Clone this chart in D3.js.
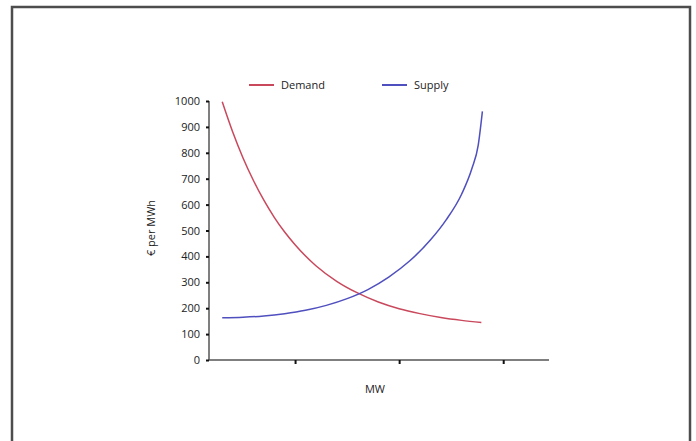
<!DOCTYPE html>
<html>
<head>
  <meta charset="UTF-8">
  <title>supply-demand</title>
  <style>
    body { margin: 0; background: #fff; }
    text { font-family: "Open Sans", "DejaVu Sans", sans-serif; fill: #222; }
  </style>
</head>
<body>
  <script src="https://cdn.jsdelivr.net/npm/d3@7"></script>
  <script>
  // values: x in arbitrary MW units, y in euro per MWh
  var demandX = [0.30, 0.40, 0.50, 0.60, 0.70, 0.80, 0.90, 1.00, 1.20, 1.40, 1.60, 1.80, 2.00, 2.20, 2.40, 2.60, 2.79];
  var demandY = [997, 881, 780, 693, 617, 551, 494, 445, 364, 304, 259, 224, 198, 179, 164, 153, 145];
  var supplyX = [0.30, 0.50, 0.70, 0.90, 1.10, 1.30, 1.50, 1.70, 1.90, 2.10, 2.30, 2.45, 2.60, 2.70, 2.76, 2.80];
  var supplyY = [163, 165, 170, 179, 192, 211, 237, 272, 320, 382, 463, 540, 640, 740, 830, 960];
  var yTicks = [0, 100, 200, 300, 400, 500, 600, 700, 800, 900, 1000];
  var xTicks = [1, 2, 3];
  var seriesNames = ["Demand", "Supply"];
  var colors = ["#c9485c", "#4f4fbf"];

  var width = 696, height = 441;
  var svg = d3.select("body").append("svg")
    .attr("width", width)
    .attr("height", height);

  // outer frame
  svg.append("rect")
    .attr("x", 12).attr("y", 7)
    .attr("width", 678).attr("height", 460)
    .attr("fill", "none")
    .attr("stroke", "#4d4d4d")
    .attr("stroke-width", 2.5);

  var x = d3.scaleLinear().domain([0.173, 3.44]).range([209, 549]);
  var y = d3.scaleLinear().domain([0, 1000]).range([360, 101]);

  // y axis
  var yAxis = d3.axisLeft(y).tickValues(yTicks).tickSize(3).tickPadding(6)
    .tickFormat(d3.format("d"));
  var gy = svg.append("g")
    .attr("transform", "translate(209,0)")
    .call(yAxis);
  gy.select(".domain").attr("stroke", "#555").attr("stroke-width", 1.5)
    .attr("d", "M0," + y(1000) + "V" + y(0));
  gy.selectAll(".tick line").attr("stroke", "#111").attr("stroke-width", 2);
  gy.selectAll(".tick text").style("font-size", "11px").attr("fill", "#222");

  // x axis
  var xAxis = d3.axisBottom(x).tickValues(xTicks).tickSize(4).tickFormat("");
  var gx = svg.append("g")
    .attr("transform", "translate(0,360)")
    .call(xAxis);
  gx.select(".domain").attr("stroke", "#555").attr("stroke-width", 1.5)
    .attr("d", "M" + x.range()[0] + ",0H" + x.range()[1]);
  gx.selectAll(".tick line").attr("stroke", "#111").attr("stroke-width", 2);

  // axis titles
  svg.append("text")
    .attr("transform", "translate(155,228) rotate(-90)")
    .attr("text-anchor", "middle")
    .style("font-size", "11px")
    .text("€ per MWh");
  svg.append("text")
    .attr("x", 375).attr("y", 393)
    .attr("text-anchor", "middle")
    .style("font-size", "11px")
    .text("MW");

  // curves
  var line = d3.line()
    .x(function (d) { return x(d[0]); })
    .y(function (d) { return y(d[1]); })
    .curve(d3.curveMonotoneX);

  var series = [d3.zip(demandX, demandY), d3.zip(supplyX, supplyY)];
  svg.selectAll(".curve")
    .data(series)
    .enter().append("path")
    .attr("class", "curve")
    .attr("d", line)
    .attr("fill", "none")
    .attr("stroke", function (d, i) { return colors[i]; })
    .attr("stroke-width", 1.5);

  // legend
  var legendX = [249, 382];
  var leg = svg.selectAll(".legend")
    .data(seriesNames)
    .enter().append("g")
    .attr("class", "legend")
    .attr("transform", function (d, i) { return "translate(" + legendX[i] + ",85)"; });
  leg.append("line")
    .attr("x1", 0).attr("x2", 25)
    .attr("stroke", function (d, i) { return colors[i]; })
    .attr("stroke-width", 2);
  leg.append("text")
    .attr("x", 32).attr("dy", "0.35em")
    .style("font-size", "11px")
    .text(function (d) { return d; });
  </script>
</body>
</html>
